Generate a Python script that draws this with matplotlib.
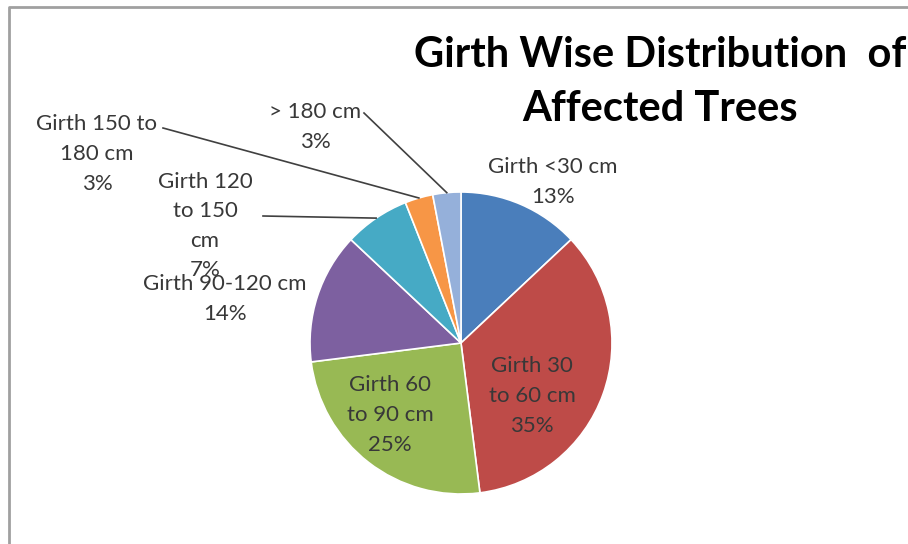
import numpy as np
import matplotlib
matplotlib.use("Agg")
import matplotlib.pyplot as plt

#  Data.
labels = ['Girth <30 cm', 'Girth 30\nto 60 cm', 'Girth 60\nto 90 cm',
          'Girth 90-120 cm', 'Girth 120\nto 150\ncm', 'Girth 150 to\n180 cm',
          '> 180 cm']
shares = [13, 35, 25, 14, 7, 3, 3]
colors = ['#4A7EBB', '#BE4B48', '#98B954', '#7D60A0', '#46AAC5', '#F79646', '#95B0DA']

#  Label centres (pixels from top-left) and leader line start points.
label_pos = [(553, 182), (532, 396), (390, 415), (225, 299), (205, 226), (97, 154), (315, 127)]
leader_start = [None, None, None, None, (263, 216), (163, 128), (364, 113)]

W, H = 908, 544
plt.rcParams['font.family'] = ['Lato', 'DejaVu Sans']

fig = plt.figure(figsize=(W / 100, H / 100), dpi=100)
ax = fig.add_axes([0, 0, 1, 1])

cx, cy, r = 461, H - 343, 151
wedges, _ = ax.pie(shares, colors=colors, startangle=90, counterclock=False,
                   center=(cx, cy), radius=r, wedgeprops=dict(linewidth=1.2, edgecolor='white'))

for w, lab, s, (lx, ly), st in zip(wedges, labels, shares, label_pos, leader_start):
    ax.text(lx, H - ly, lab + '\n' + str(s) + '%', ha='center', va='center',
            fontsize=16, color='#383838', linespacing=1.6)
    if st is not None:
        mid = np.deg2rad((w.theta1 + w.theta2) / 2)
        ex, ey = cx + r * np.cos(mid), cy + r * np.sin(mid)
        ax.plot([st[0], ex], [H - st[1], ey], color='#404040', lw=1.2)

ax.text(660, H - 82, 'Girth Wise Distribution  of\nAffected Trees', ha='center', va='center',
        fontsize=30, fontweight='bold', color='black', linespacing=1.5)

#  Chart frame (only left and top edges visible in the reference).
ax.plot([9, 9, W], [0, H - 7, H - 7], color='#A0A0A0', lw=2)

ax.set_xlim(0, W)
ax.set_ylim(0, H)
ax.set_aspect('equal')
ax.axis('off')

fig.savefig('out.png', dpi=100)
